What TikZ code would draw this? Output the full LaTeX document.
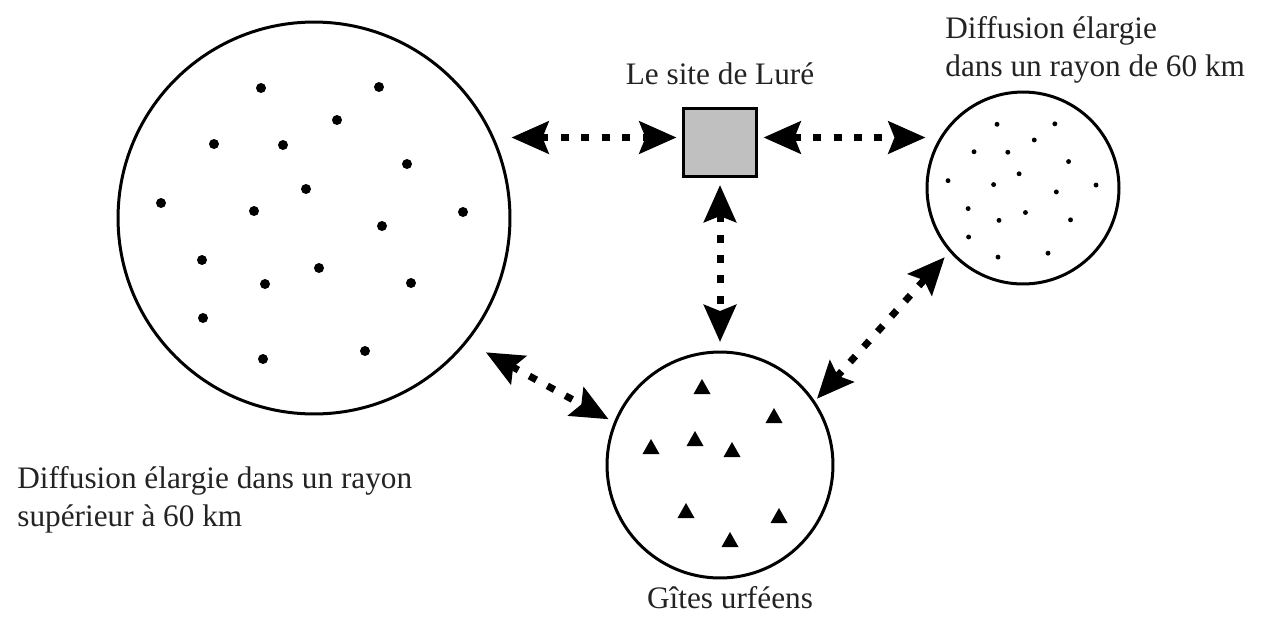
\documentclass[tikz,border=0pt]{standalone}
\usepackage{fontspec}
\setmainfont{Liberation Serif}
\usetikzlibrary{arrows.meta,positioning}
\definecolor{lureGray}{RGB}{192,192,192}
\definecolor{lureText}{RGB}{35,35,35}

\begin{document}
\begin{tikzpicture}[
  x=0.02cm, y=-0.02cm,
  zone/.style={
    draw,
    circle,
    line width=0.06cm,
    inner sep=0pt
  },
  sitebox/.style={
    draw,
    fill=lureGray,
    line width=0.06cm,
    minimum width=1.46cm,
    minimum height=1.36cm
  },
  caption/.style={text=lureText,inner sep=0pt,font=\fontsize{17.8}{21.5}\selectfont},
  link/.style={
    {Stealth[length=7.4mm,width=6.4mm,inset=1.2mm]}-{Stealth[length=7.4mm,width=6.4mm,inset=1.2mm]},
    line width=1.4mm,
    dash pattern=on 1.6mm off 2.5mm
  }
]
  \useasboundingbox (0,0) rectangle (1263,623);
  \node[zone,minimum size=7.84cm] (wide) at (314,218) {};
  \node[zone,minimum size=3.84cm] (near) at (1023,188) {};
  \node[zone,minimum size=4.52cm] (gites) at (720,465) {};
  \node[sitebox] (site) at (720,142) {};
  % points inside the two diffusion zones
  \foreach \cx/\cy/\s in {314/218/1, 1023/188/0.49}
    \foreach \dx/\dy in {-53/-130, 65/-131, 23/-98, -100/-74, -31/-73, 93/-54, -8/-29, -153/-15, -60/-7,
                         149/-6, 68/8, -112/42, 5/50, -49/66, 97/65, -111/100, -51/141, 51/133}
      \fill ({\cx+\s*\dx}, {\cy+\s*\dy}) circle[radius=\s*1mm];
  % gites
  \foreach \tx/\ty in {702/387, 774/416, 651/447, 695/439, 732/450, 686/511, 779/516, 730/540}
    \fill (\tx,\ty) +(0,-8) -- +(8.5,7) -- +(-8.5,7) -- cycle;
  \node[caption,above=0.43cm of site] (sitelabel) {Le site de Luré};
  \node[caption,align=left,anchor=north west] (nearlabel) at (945,16) {Diffusion élargie\\dans un rayon de 60 km};
  \node[caption,align=left,anchor=north west] (widelabel) at (17,466) {Diffusion élargie dans un rayon\\supérieur à 60 km};
  \node[caption,anchor=base] (giteslabel) at (730,608) {Gîtes urféens};
  \draw[link,shorten >=0.11cm] ([yshift=0.9mm]site.west -| wide.east) -- ([yshift=0.9mm]site.west);
  \draw[link,shorten <=0.11cm] ([yshift=0.9mm]site.east) -- ([yshift=0.9mm]site.east -| near.west);
  \draw[link,shorten <=0.15cm,shorten >=0.17cm] (site.south) -- (gites.north);
  \draw[link,shorten <=0.42cm,shorten >=0.12cm] (wide.-39) -- (gites.158);
  \draw[link,shorten <=0.06cm,shorten >=0.14cm] (gites.34) -- (near.221);
\end{tikzpicture}
\end{document}
